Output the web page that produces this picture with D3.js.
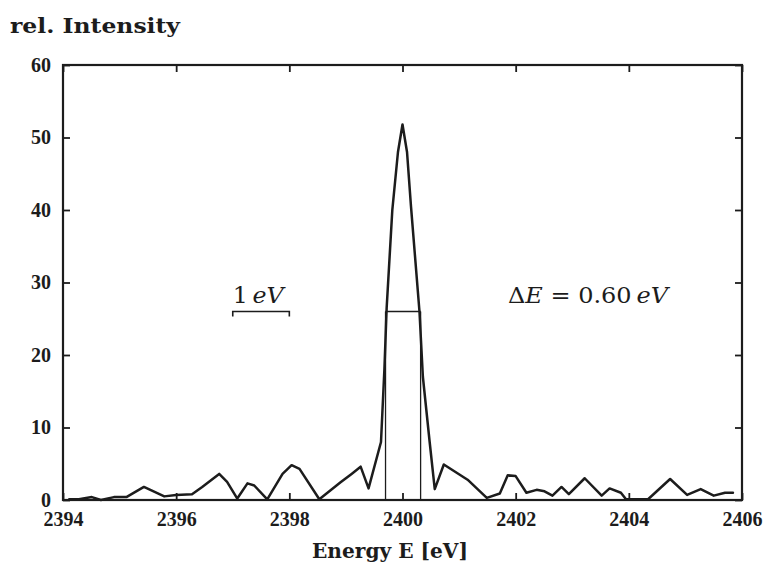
<!DOCTYPE html>
<html><head><meta charset="utf-8">
<script src="https://cdn.jsdelivr.net/npm/d3@7"></script>
<style>
html,body{margin:0;padding:0;background:#fff;}
svg{display:block;}
</style></head>
<body>
<svg id="c" width="767" height="566"></svg>
<script>
// ---- data ----
const energy = [2394.11, 2394.28, 2394.51, 2394.67, 2394.90, 2395.12, 2395.43, 2395.79, 2396.00, 2396.28,
  2396.46, 2396.76, 2396.90, 2397.08, 2397.26, 2397.38, 2397.61, 2397.88, 2398.04, 2398.18,
  2398.53, 2398.90, 2399.10, 2399.26, 2399.40, 2399.62, 2399.68, 2399.72, 2399.82, 2399.92,
  2400.00, 2400.08, 2400.15, 2400.30, 2400.36, 2400.48, 2400.57, 2400.73, 2401.15, 2401.49,
  2401.72, 2401.86, 2402.00, 2402.19, 2402.37, 2402.51, 2402.65, 2402.81, 2402.94, 2403.22,
  2403.52, 2403.66, 2403.86, 2403.95, 2404.34, 2404.73, 2405.03, 2405.27, 2405.50, 2405.70, 2405.84];
const intensity = [0.1, 0.1, 0.4, 0.0, 0.4, 0.4, 1.8, 0.5, 0.7, 0.8,
  1.8, 3.6, 2.5, 0.2, 2.3, 2.0, 0.1, 3.6, 4.8, 4.3,
  0.1, 2.4, 3.6, 4.6, 1.6, 8.0, 18.0, 26.5, 40.0, 48.0,
  51.8, 48.0, 40.5, 26.0, 17.0, 8.0, 1.5, 4.9, 2.8, 0.3,
  0.9, 3.4, 3.3, 1.0, 1.4, 1.2, 0.6, 1.8, 0.8, 3.0,
  0.6, 1.6, 1.0, 0.1, 0.1, 2.9, 0.7, 1.5, 0.6, 1.0, 1.0];
const xTicks = [2394, 2396, 2398, 2400, 2402, 2404, 2406];
const yTicks = [0, 10, 20, 30, 40, 50, 60];
const fwhmLeft = 2399.70, fwhmRight = 2400.32, fwhmLevel = 26;
const scaleBarFrom = 2397.0, scaleBarTo = 2398.0, scaleBarLevel = 26;

const svg = d3.select("#c");
const x = d3.scaleLinear().domain([2394, 2406]).range([63, 742]);
const y = d3.scaleLinear().domain([0, 60]).range([500, 65]);
const ink = "#1c1c1c";
const tickFont = "'Liberation Serif', serif";

function styleAxis(g, labels) {
  g.select(".domain").remove();
  g.selectAll(".tick line").attr("stroke", ink).attr("stroke-width", 1.8);
  if (labels) {
    g.selectAll(".tick text").attr("fill", ink).attr("font-family", tickFont)
      .style("font-family", tickFont).style("font-weight", "bold")
      .style("font-size", "20px");
  } else {
    g.selectAll(".tick text").remove();
  }
}

// axes with inward ticks
svg.append("g").attr("transform", `translate(0,${y(0)})`)
  .call(d3.axisBottom(x).tickValues(xTicks).tickFormat(d3.format("d")).tickSizeInner(-7).tickSizeOuter(0).tickPadding(12))
  .call(g => styleAxis(g, true));
svg.append("g").attr("transform", `translate(0,${y(60)})`)
  .call(d3.axisTop(x).tickValues(xTicks).tickSizeInner(-7).tickSizeOuter(0))
  .call(g => styleAxis(g, false));
svg.append("g").attr("transform", `translate(${x(2394)},0)`)
  .call(d3.axisLeft(y).tickValues(yTicks).tickFormat(d3.format("d")).tickSizeInner(-7).tickSizeOuter(0).tickPadding(12))
  .call(g => styleAxis(g, true));
svg.append("g").attr("transform", `translate(${x(2406)},0)`)
  .call(d3.axisRight(y).tickValues(yTicks).tickSizeInner(-7).tickSizeOuter(0))
  .call(g => styleAxis(g, false));

// frame
svg.append("rect").attr("x", x(2394)).attr("y", y(60))
  .attr("width", x(2406) - x(2394)).attr("height", y(0) - y(60))
  .attr("fill", "none").attr("stroke", ink).attr("stroke-width", 2.2);

// FWHM marker
const fw = svg.append("g").attr("stroke", ink).attr("stroke-width", 1.3).attr("fill", "none");
fw.append("line").attr("x1", x(fwhmLeft)).attr("x2", x(fwhmLeft)).attr("y1", y(0)).attr("y2", y(fwhmLevel));
fw.append("line").attr("x1", x(fwhmRight)).attr("x2", x(fwhmRight)).attr("y1", y(0)).attr("y2", y(fwhmLevel));
fw.append("line").attr("x1", x(fwhmLeft)).attr("x2", x(fwhmRight)).attr("y1", y(fwhmLevel)).attr("y2", y(fwhmLevel));

// spectrum line
const pts = energy.map((e, i) => [e, intensity[i]]);
svg.append("path").datum(pts)
  .attr("d", d3.line().x(d => x(d[0])).y(d => y(d[1])))
  .attr("fill", "none").attr("stroke", ink).attr("stroke-width", 2.5)
  .attr("stroke-linejoin", "round").attr("stroke-linecap", "round");

// 1 eV scale bracket
svg.append("path")
  .attr("d", `M${x(scaleBarFrom)},${y(scaleBarLevel) + 5}V${y(scaleBarLevel)}H${x(scaleBarTo)}V${y(scaleBarLevel) + 5}`)
  .attr("fill", "none").attr("stroke", ink).attr("stroke-width", 1.6);

const annFont = "'DejaVu Serif', serif";
const t1 = svg.append("text").attr("x", x(scaleBarFrom)).attr("y", 303)
  .attr("fill", ink).style("font-family", annFont).style("font-size", "22px")
  .attr("textLength", 51).attr("lengthAdjust", "spacingAndGlyphs");
t1.append("tspan").text("1\u2009");
t1.append("tspan").style("font-style", "italic").text("eV");

const t2 = svg.append("text").attr("x", 508).attr("y", 303)
  .attr("fill", ink).style("font-family", annFont).style("font-size", "22px")
  .attr("textLength", 160).attr("lengthAdjust", "spacingAndGlyphs");
t2.append("tspan").text("\u0394");
t2.append("tspan").style("font-style", "italic").text("E");
t2.append("tspan").text(" = 0.60\u2009");
t2.append("tspan").style("font-style", "italic").text("eV");

// titles
svg.append("text").attr("x", 10).attr("y", 33).text("rel. Intensity")
  .attr("fill", ink).style("font-family", annFont).style("font-weight", "bold").style("font-size", "21px")
  .attr("textLength", 170).attr("lengthAdjust", "spacingAndGlyphs");
svg.append("text").attr("x", 312).attr("y", 558).text("Energy E [eV]")
  .attr("fill", ink).style("font-family", annFont).style("font-weight", "bold").style("font-size", "21px")
  .attr("textLength", 156).attr("lengthAdjust", "spacingAndGlyphs");
</script>
</body></html>
